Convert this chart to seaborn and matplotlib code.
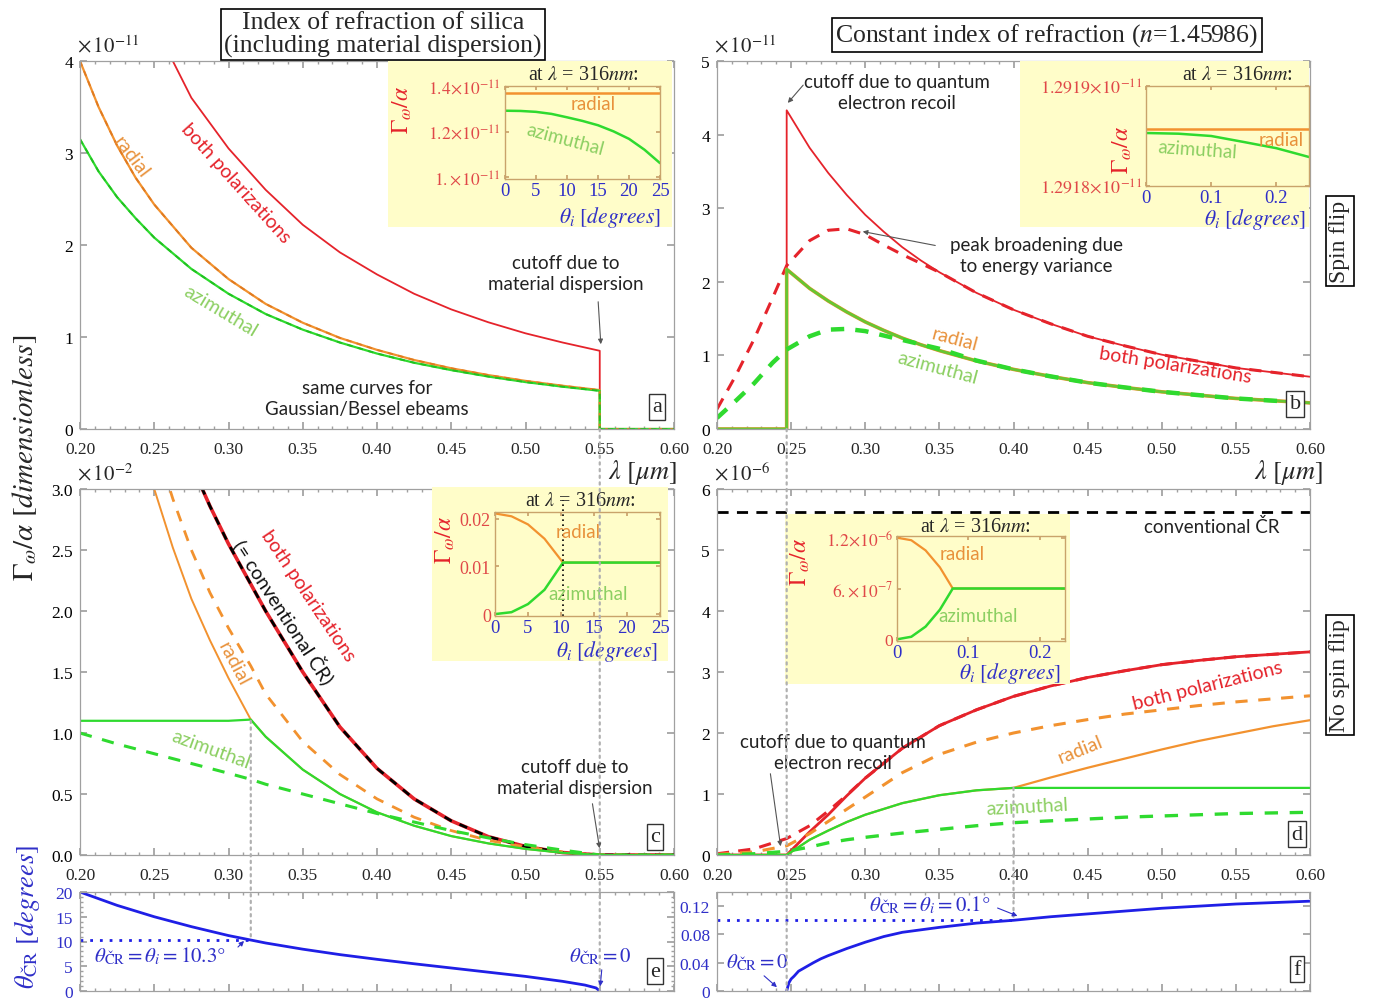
import matplotlib
matplotlib.use("Agg")
import matplotlib.pyplot as plt
import seaborn as sns
from matplotlib.patches import ConnectionPatch, FancyArrowPatch
from matplotlib.ticker import MultipleLocator

# ---------------- data ----------------
lam_ticks = [0.20, 0.25, 0.30, 0.35, 0.40, 0.45, 0.50, 0.55, 0.60]

# panel a  (units 1e-11), silica with dispersion, spin flip
lam_a = [0.20, 0.2125, 0.225, 0.2375, 0.25, 0.275, 0.30, 0.325, 0.35, 0.375, 0.40,
         0.425, 0.45, 0.475, 0.50, 0.525, 0.55, 0.55, 0.60]
a_both = [7.0, 6.2, 5.5, 4.95, 4.4, 3.6, 3.05, 2.6, 2.22, 1.92, 1.68,
          1.47, 1.30, 1.16, 1.04, 0.94, 0.85, 0.0, 0.0]
a_rad = [4.0, 3.50, 3.08, 2.73, 2.44, 1.97, 1.63, 1.36, 1.155, 0.99, 0.86,
         0.75, 0.66, 0.586, 0.523, 0.47, 0.423, 0.0, 0.0]
a_azi = [3.15, 2.80, 2.52, 2.29, 2.08, 1.74, 1.47, 1.25, 1.08, 0.94, 0.82,
         0.72, 0.64, 0.57, 0.51, 0.46, 0.415, 0.0, 0.0]

# panel b  (units 1e-11), constant n, spin flip
lam_b = [0.20, 0.2125, 0.225, 0.2375, 0.247, 0.247, 0.2625, 0.275, 0.2875, 0.30,
         0.3125, 0.325, 0.3375, 0.35, 0.375, 0.40, 0.425, 0.45, 0.475, 0.50,
         0.525, 0.55, 0.575, 0.60]
b_both = [0, 0, 0, 0, 0, 4.33, 3.82, 3.48, 3.18, 2.91,
          2.68, 2.47, 2.29, 2.13, 1.85, 1.62, 1.43, 1.26, 1.13, 1.01,
          0.92, 0.83, 0.77, 0.71]
b_both_dash = [0.27, 0.72, 1.22, 1.78, 2.22, 2.22, 2.56, 2.70, 2.72, 2.64,
               2.50, 2.37, 2.25, 2.13, 1.85, 1.62, 1.43, 1.26, 1.13, 1.01,
               0.92, 0.83, 0.77, 0.71]
b_pol = [0, 0, 0, 0, 0, 2.17, 1.91, 1.74, 1.59, 1.455,
         1.34, 1.235, 1.145, 1.065, 0.925, 0.81, 0.715, 0.63, 0.565, 0.505,
         0.46, 0.415, 0.385, 0.355]
b_pol_dash = [0.15, 0.38, 0.62, 0.90, 1.08, 1.08, 1.26, 1.35, 1.36, 1.33,
              1.27, 1.21, 1.15, 1.09, 0.93, 0.81, 0.715, 0.63, 0.565, 0.505,
              0.46, 0.415, 0.385, 0.355]

# panel c  (units 1e-2), silica, no spin flip
lam_c = [0.20, 0.225, 0.25, 0.2625, 0.275, 0.2875, 0.30, 0.315, 0.325, 0.35, 0.375,
         0.40, 0.425, 0.45, 0.475, 0.50, 0.525, 0.55, 0.60]
c_both = [8.5, 6.0, 4.1, 3.62, 3.2, 2.86, 2.55, 2.22, 2.0, 1.5, 1.05,
          0.71, 0.46, 0.28, 0.15, 0.07, 0.02, 0.0, 0.0]
c_rad = [7.4, 4.9, 3.0, 2.52, 2.1, 1.76, 1.45, 1.11, 0.97, 0.70, 0.50,
         0.35, 0.24, 0.155, 0.095, 0.05, 0.018, 0.0, 0.0]
c_azi = [1.1, 1.1, 1.1, 1.1, 1.1, 1.1, 1.1, 1.11, 0.97, 0.70, 0.50,
         0.35, 0.24, 0.155, 0.095, 0.05, 0.018, 0.0, 0.0]
c_rad_dash = [7.5, 5.0, 3.4, 2.92, 2.5, 2.15, 1.86, 1.55, 1.32, 0.93, 0.66,
              0.46, 0.31, 0.20, 0.12, 0.065, 0.025, 0.0, 0.0]
c_azi_dash = [1.0, 0.91, 0.83, 0.79, 0.75, 0.71, 0.67, 0.62, 0.58, 0.50, 0.42,
              0.34, 0.27, 0.20, 0.14, 0.085, 0.04, 0.0, 0.0]

# panel d  (units 1e-6), constant n, no spin flip
lam_d = [0.20, 0.225, 0.247, 0.2625, 0.275, 0.2875, 0.30, 0.325, 0.35, 0.375,
         0.40, 0.425, 0.45, 0.475, 0.50, 0.525, 0.55, 0.575, 0.60]
d_both = [0, 0, 0, 0.38, 0.66, 0.97, 1.26, 1.75, 2.12, 2.38,
          2.60, 2.77, 2.91, 3.02, 3.12, 3.19, 3.25, 3.29, 3.33]
d_both_dash = [0.02, 0.10, 0.27, 0.48, 0.72, 0.98, 1.26, 1.75, 2.12, 2.38,
               2.60, 2.77, 2.91, 3.02, 3.12, 3.19, 3.25, 3.29, 3.33]
d_rad = [0, 0, 0, 0.25, 0.40, 0.54, 0.66, 0.85, 0.98, 1.06,
         1.10, 1.27, 1.43, 1.58, 1.73, 1.87, 1.99, 2.11, 2.21]
d_azi = [0, 0, 0, 0.25, 0.40, 0.54, 0.66, 0.85, 0.98, 1.06,
         1.10, 1.10, 1.10, 1.10, 1.10, 1.10, 1.10, 1.10, 1.10]
d_rad_dash = [0.01, 0.05, 0.15, 0.35, 0.55, 0.75, 0.95, 1.35, 1.65, 1.85,
              2.00, 2.12, 2.22, 2.31, 2.38, 2.45, 2.51, 2.56, 2.61]
d_azi_dash = [0.0, 0.02, 0.06, 0.13, 0.20, 0.25, 0.29, 0.36, 0.42, 0.48,
              0.53, 0.56, 0.59, 0.62, 0.64, 0.66, 0.68, 0.69, 0.70]
conv_lam = [0.20, 0.60]
conv_level = [5.62, 5.62]

# panel e: Cherenkov angle (degrees), silica
lam_e = [0.20, 0.225, 0.25, 0.275, 0.30, 0.325, 0.35, 0.375, 0.40, 0.425,
         0.45, 0.475, 0.50, 0.525, 0.54, 0.5475, 0.55]
theta_e = [20.0, 17.3, 15.0, 13.0, 11.2, 9.7, 8.45, 7.35, 6.4, 5.5,
           4.65, 3.8, 2.95, 1.95, 1.2, 0.62, 0.0]
e_mark_lam = [0.20, 0.315]
e_mark_theta = [10.3, 10.3]

# panel f: Cherenkov angle (degrees), constant n
lam_f = [0.247, 0.2485, 0.25, 0.252, 0.255, 0.26, 0.265, 0.27, 0.275, 0.2875,
         0.30, 0.3125, 0.325, 0.35, 0.375, 0.40, 0.425, 0.45, 0.475, 0.50,
         0.525, 0.55, 0.575, 0.60]
theta_f = [0.0, 0.0116, 0.017, 0.021, 0.028, 0.034, 0.040, 0.0455, 0.050, 0.060,
           0.069, 0.077, 0.083, 0.090, 0.096, 0.100, 0.105, 0.109, 0.113, 0.117,
           0.120, 0.123, 0.125, 0.127]
f_mark_lam = [0.20, 0.40]
f_mark_theta = [0.1, 0.1]

# insets (at lambda = 316 nm)
ins_a_th = [0, 2.5, 5, 7.5, 10, 12.5, 15, 17.5, 20, 22.5, 25]
ins_a_rad = [1.37, 1.37, 1.37, 1.37, 1.37, 1.37, 1.37, 1.37, 1.37, 1.37, 1.37]
ins_a_azi = [1.294, 1.293, 1.289, 1.280, 1.265, 1.249, 1.230, 1.203, 1.170, 1.122, 1.063]

ins_b_th = [0, 0.05, 0.10, 0.15, 0.20, 0.25]
ins_b_rad = [1.291857, 1.291857, 1.291857, 1.291857, 1.291857, 1.291857]
ins_b_azi = [1.2918530, 1.2918523, 1.2918500, 1.2918440, 1.2918378, 1.2918290]

ins_c_th = [0, 2.5, 5, 7.5, 10.3, 15, 20, 25]
ins_c_rad = [0.0211, 0.0205, 0.0188, 0.0158, 0.0108, 0.0108, 0.0108, 0.0108]
ins_c_azi = [0.0, 0.0004, 0.0021, 0.0051, 0.0108, 0.0108, 0.0108, 0.0108]

ins_d_th = [0, 0.02, 0.04, 0.06, 0.078, 0.15, 0.235]
ins_d_rad = [1.2, 1.17, 1.05, 0.85, 0.6, 0.6, 0.6]
ins_d_azi = [0.0, 0.03, 0.15, 0.35, 0.6, 0.6, 0.6]

# ---------------- style ----------------
sns.set_theme(style="ticks")
plt.rcParams["font.family"] = ["Liberation Serif", "DejaVu Serif"]
plt.rcParams["mathtext.fontset"] = "stix"

RED = "#E5232B"
ORANGE = "#F2922F"
GREEN = "#2FDA2F"
BLUE = "#1F1FE6"
TBLUE = "#2F2FC8"
LRED = "#E04848"
LGREEN = "#8CCF62"
LORANGE = "#E8913A"
YELLOW = "#FFFDC9"
GRAY = "#A0A0A0"
TAN = "#C9A36B"
SANS = ["Lato", "DejaVu Sans"]

W, H = 1375, 1003
fig = plt.figure(figsize=(W / 100, H / 100), dpi=100)


def rect(x0, y0, x1, y1):
    return [x0 / W, 1 - y1 / H, (x1 - x0) / W, (y1 - y0) / H]


def P(px, py):
    return (px / W, 1 - py / H)


def ft(px, py, s, **kw):
    kw.setdefault("ha", "center")
    kw.setdefault("va", "center")
    return fig.text(px / W, 1 - py / H, s, **kw)


def arrow(p0, p1, color="#555555"):
    fig.add_artist(FancyArrowPatch(P(*p0), P(*p1), transform=fig.transFigure,
                                   arrowstyle="-|>", mutation_scale=7,
                                   color=color, lw=0.8, zorder=6))


def line(ax, x, y, color, lw=1.4, dash=None, z=2):
    n0 = len(ax.lines)
    sns.lineplot(x=x, y=y, ax=ax, color=color, linewidth=lw, estimator=None,
                 sort=False, legend=False, zorder=z)
    ln = ax.lines[n0]
    if dash is not None:
        ln.set_dashes(dash)
    return ln


def style_main(ax, ylim, yticks, ylabels, ycolor="black", show_x=True):
    ax.set_xlim(0.2, 0.6)
    ax.set_ylim(*ylim)
    ax.set_xticks(lam_ticks)
    ax.set_xticklabels([f"{t:.2f}" for t in lam_ticks] if show_x else [])
    ax.xaxis.set_minor_locator(MultipleLocator(0.01))
    ax.set_yticks(yticks)
    ax.set_yticklabels(ylabels)
    ax.tick_params(which="both", direction="in", top=True, right=True, color=GRAY)
    ax.tick_params(which="major", length=5, labelsize=12.5, pad=5)
    ax.tick_params(axis="x", which="major", pad=9)
    ax.tick_params(which="minor", length=2.5)
    ax.tick_params(axis="y", labelcolor=ycolor)
    for s in ax.spines.values():
        s.set_color(GRAY)
        s.set_linewidth(0.9)
    ax.set_xlabel("")
    ax.set_ylabel("")


def letter(ax, x, y, s):
    ax.text(x, y, s, transform=ax.transAxes, ha="center", va="center", fontsize=16,
            bbox=dict(boxstyle="square,pad=0.15", fc="white", ec="#333333", lw=1.0),
            zorder=7)


# ---------------- main axes ----------------
ax_a = fig.add_axes(rect(80, 62, 674, 430))
ax_b = fig.add_axes(rect(717, 62, 1310, 430))
ax_c = fig.add_axes(rect(80, 490, 674, 856))
ax_d = fig.add_axes(rect(717, 490, 1310, 856))
ax_e = fig.add_axes(rect(80, 893, 674, 992))
ax_f = fig.add_axes(rect(717, 893, 1310, 992))

# panel a
line(ax_a, lam_a, a_both, RED, 1.3)
line(ax_a, lam_a, a_rad, ORANGE, 1.6)
line(ax_a, lam_a, a_azi, GREEN, 1.6)
line(ax_a, lam_a, a_rad, "#E07A20", 1.3, dash=(3, 3))
line(ax_a, lam_a, a_azi, "#20C020", 1.3, dash=(3, 3))
style_main(ax_a, (0, 4), [0, 1, 2, 3, 4], ["0", "1", "2", "3", "4"])
letter(ax_a, 0.971, 0.06, "a")

# panel b
line(ax_b, lam_b, b_both, RED, 1.3)
line(ax_b, lam_b, b_both_dash, RED, 2.2, dash=(4, 3))
line(ax_b, lam_b, b_pol, ORANGE, 2.6)
line(ax_b, lam_b, b_pol, "#66C633", 2.0)
line(ax_b, lam_b, b_pol_dash, GREEN, 3.2, dash=(3, 2.5))
style_main(ax_b, (0, 5), [0, 1, 2, 3, 4, 5], ["0", "1", "2", "3", "4", "5"])
letter(ax_b, 0.975, 0.068, "b")

# panel c
line(ax_c, lam_c, c_both, RED, 2.6)
line(ax_c, lam_c, c_both, "black", 2.0, dash=(3, 3))
line(ax_c, lam_c, c_rad, ORANGE, 1.4)
line(ax_c, lam_c, c_rad_dash, ORANGE, 2.0, dash=(4, 3.5))
line(ax_c, lam_c, c_azi, GREEN, 1.6)
line(ax_c, lam_c, c_azi_dash, GREEN, 2.2, dash=(4, 3.5))
style_main(ax_c, (0, 3), [0, 0.5, 1, 1.5, 2, 2.5, 3],
           ["0.0", "0.5", "1.0", "1.5", "2.0", "2.5", "3.0"])
letter(ax_c, 0.968, 0.05, "c")

# panel d
line(ax_d, conv_lam, conv_level, "black", 2.0, dash=(4, 3))
line(ax_d, lam_d, d_both_dash, RED, 2.2, dash=(4, 3))
line(ax_d, lam_d, d_both, RED, 2.0)
line(ax_d, lam_d, d_rad_dash, ORANGE, 2.2, dash=(4, 3.5))
line(ax_d, lam_d, d_rad, ORANGE, 1.6)
line(ax_d, lam_d, d_azi_dash, GREEN, 2.4, dash=(4, 3.5))
line(ax_d, lam_d, d_azi, GREEN, 1.6)
style_main(ax_d, (0, 6), [0, 1, 2, 3, 4, 5, 6], ["0", "1", "2", "3", "4", "5", "6"])
letter(ax_d, 0.978, 0.057, "d")

# panel e
line(ax_e, lam_e, theta_e, BLUE, 2.0)
line(ax_e, e_mark_lam, e_mark_theta, BLUE, 2.0, dash=(1, 2.5))
style_main(ax_e, (0, 20), [0, 5, 10, 15, 20], ["0", "5", "10", "15", "20"],
           ycolor=TBLUE, show_x=False)
ax_e.yaxis.set_minor_locator(MultipleLocator(1))
letter(ax_e, 0.968, 0.2, "e")

# panel f
line(ax_f, lam_f, theta_f, BLUE, 2.0)
line(ax_f, f_mark_lam, f_mark_theta, BLUE, 2.0, dash=(1, 2.5))
style_main(ax_f, (0, 0.14), [0, 0.04, 0.08, 0.12], ["0", "0.04", "0.08", "0.12"],
           ycolor=TBLUE, show_x=False)
letter(ax_f, 0.978, 0.22, "f")

# scale multipliers
for ax, s in [(ax_a, r"$\times\,10^{-11}$"), (ax_b, r"$\times\,10^{-11}$"),
              (ax_c, r"$\times\,10^{-2}$"), (ax_d, r"$\times\,10^{-6}$")]:
    ax.text(-0.005, 1.012, s, transform=ax.transAxes, ha="left", va="bottom",
            fontsize=15)


# ---------------- insets ----------------
def inset(bg_box, ax_box):
    bg = fig.add_axes(rect(*bg_box))
    bg.set_facecolor(YELLOW)
    bg.set_xticks([])
    bg.set_yticks([])
    for s in bg.spines.values():
        s.set_visible(False)
    ia = fig.add_axes(rect(*ax_box))
    ia.set_facecolor(YELLOW)
    return ia


def style_inset(ia, xlim, ylim, xt, xtl, yt, ytl, fs=12):
    ia.set_xlim(*xlim)
    ia.set_ylim(*ylim)
    ia.set_xticks(xt)
    ia.set_xticklabels(xtl)
    ia.set_yticks(yt)
    ia.set_yticklabels(ytl)
    ia.tick_params(direction="in", length=3, color=TAN, labelsize=fs, pad=3,
                   top=True, right=True)
    ia.tick_params(axis="x", labelcolor=TBLUE, labelsize=13.5, pad=2)
    ia.tick_params(axis="y", labelcolor=LRED)
    for s in ia.spines.values():
        s.set_color(TAN)
        s.set_linewidth(1.0)
    ia.set_xlabel("")
    ia.set_ylabel("")


# inset a
ia = inset((388, 62, 672, 228), (505, 87, 660, 180))
line(ia, ins_a_th, ins_a_rad, ORANGE, 1.8)
line(ia, ins_a_th, ins_a_azi, GREEN, 1.8)
style_inset(ia, (0, 25), (0.993, 1.403), [0, 5, 10, 15, 20, 25],
            ["0", "5", "10", "15", "20", "25"], [1.0, 1.2, 1.4],
            [r"$1.\!\times\!10^{-11}$", r"$1.2\!\times\!10^{-11}$", r"$1.4\!\times\!10^{-11}$"],
            fs=12.5)
ft(583, 76, r"at $\lambda$ = 316$nm$:", fontsize=14.5)
ft(402, 110, r"$\Gamma_\omega/\alpha$", fontsize=17, color=RED, rotation=90)
ft(610, 217, r"$\theta_i\ [degrees]$", fontsize=15.5, color=TBLUE)
ft(593, 104, "radial", fontsize=13.5, color=LORANGE, family=SANS)
ft(565, 140, "azimuthal", fontsize=13.5, color=LGREEN, family=SANS, rotation=-15)

# inset b
ib = inset((1020, 62, 1309, 228), (1146, 87, 1309, 187))
line(ib, ins_b_th, ins_b_rad, ORANGE, 1.8)
line(ib, ins_b_th, ins_b_azi, GREEN, 1.8)
style_inset(ib, (0, 0.25), (1.2918, 1.2919), [0, 0.1, 0.2], ["0", "0.1", "0.2"],
            [1.2918, 1.2919],
            [r"$1.2918\!\times\!10^{-11}$", r"$1.2919\!\times\!10^{-11}$"], fs=13)
ft(1237, 76, r"at $\lambda$ = 316$nm$:", fontsize=14.5)
ft(1122, 150, r"$\Gamma_\omega/\alpha$", fontsize=17, color=RED, rotation=90)
ft(1255, 220, r"$\theta_i\ [degrees]$", fontsize=15.5, color=TBLUE)
ft(1281, 141, "radial", fontsize=13.5, color=LORANGE, family=SANS)
ft(1197, 150, "azimuthal", fontsize=13.5, color=LGREEN, family=SANS, rotation=-4)

# inset c
ic = inset((432, 488, 668, 662), (495, 513, 660, 617))
line(ic, ins_c_th, ins_c_rad, ORANGE, 1.6)
line(ic, ins_c_th, ins_c_azi, GREEN, 1.8)
ic.axvline(10.3, color="black", lw=1.2, ls=(0, (1, 2)), ymax=1.12, clip_on=False)
style_inset(ic, (0, 25), (-0.0004, 0.0214), [0, 5, 10, 15, 20, 25],
            ["0", "5", "10", "15", "20", "25"], [0, 0.01, 0.02], ["0", "0.01", "0.02"],
            fs=13)
ft(580, 502, r"at $\lambda$ = 316$nm$:", fontsize=14.5)
ft(445, 540, r"$\Gamma_\omega/\alpha$", fontsize=17, color=RED, rotation=90)
ft(607, 652, r"$\theta_i\ [degrees]$", fontsize=15.5, color=TBLUE)
ft(578, 533, "radial", fontsize=13.5, color=LORANGE, family=SANS)
ft(588, 594, "azimuthal", fontsize=13.5, color=LGREEN, family=SANS)

# inset d
idd = inset((785, 515, 1070, 685), (897, 537, 1065, 642))
line(idd, ins_d_th, ins_d_rad, ORANGE, 1.6)
line(idd, ins_d_th, ins_d_azi, GREEN, 1.8)
style_inset(idd, (0, 0.235), (-0.02, 1.22), [0, 0.1, 0.2], ["0", "0.1", "0.2"],
            [0, 0.6, 1.2], ["0", r"$6.\!\times\!10^{-7}$", r"$1.2\!\times\!10^{-6}$"],
            fs=12.5)
ft(975, 527, r"at $\lambda$ = 316$nm$:", fontsize=14.5)
ft(800, 562, r"$\Gamma_\omega/\alpha$", fontsize=17, color=RED, rotation=90)
ft(1010, 673, r"$\theta_i\ [degrees]$", fontsize=15.5, color=TBLUE)
ft(962, 554, "radial", fontsize=13.5, color=LORANGE, family=SANS)
ft(978, 617, "azimuthal", fontsize=13.5, color=LGREEN, family=SANS)

# ---------------- connecting dotted lines ----------------
for axA, xyA, axB, xyB in [(ax_a, (0.55, 0), ax_e, (0.55, 0)),
                           (ax_c, (0.315, 1.1), ax_e, (0.315, 10.3)),
                           (ax_b, (0.247, 0), ax_f, (0.247, 0)),
                           (ax_d, (0.40, 1.1), ax_f, (0.40, 0.1))]:
    con = ConnectionPatch(xyA=xyA, coordsA="data", axesA=axA,
                          xyB=xyB, coordsB="data", axesB=axB,
                          color="#B0B0B0", lw=1.6, linestyle=(0, (1, 2)), zorder=5)
    fig.add_artist(con)

# ---------------- titles and labels ----------------
ft(383, 35, "Index of refraction of silica\n(including material dispersion)",
   fontsize=18.5, linespacing=1.0,
   bbox=dict(boxstyle="square,pad=0.12", fc="white", ec="black", lw=1.2))
ft(1047, 36, r"Constant index of refraction ($n$=1.45986)", fontsize=18.5,
   bbox=dict(boxstyle="square,pad=0.12", fc="white", ec="black", lw=1.2))
ft(1340, 242, "Spin flip", fontsize=17, rotation=90,
   bbox=dict(boxstyle="square,pad=0.15", fc="white", ec="black", lw=1.2))
ft(1340, 676, "No spin flip", fontsize=17, rotation=90,
   bbox=dict(boxstyle="square,pad=0.15", fc="white", ec="black", lw=1.2))
ft(642, 473, r"$\lambda\ [\mu m]$", fontsize=19)
ft(1288, 473, r"$\lambda\ [\mu m]$", fontsize=19)
ft(25, 458, r"$\Gamma_\omega/\alpha\ [dimensionless]$", fontsize=21, rotation=90)
ft(27, 917, r"$\theta_{\mathrm{ČR}}\ [degrees]$", fontsize=19, rotation=90, color=TBLUE)

# ---------------- annotations ----------------
# panel a
ft(131, 157, "radial", fontsize=14, color=LORANGE, family=SANS, rotation=-53)
ft(236, 183, "both polarizations", fontsize=14, color=RED, family=SANS, rotation=-48)
ft(221, 311, "azimuthal", fontsize=14, color=LGREEN, family=SANS, rotation=-31)
ft(566, 274, "cutoff due to\nmaterial dispersion", fontsize=13.5, family=SANS,
   color="#222222", linespacing=1.3)
arrow((598, 300), (601, 348))
ft(367, 399, "same curves for\nGaussian/Bessel ebeams", fontsize=13.5, family=SANS,
   color="#222222", linespacing=1.3)

# panel b
ft(897, 93, "cutoff due to quantum\nelectron recoil", fontsize=13.5, family=SANS,
   color="#222222", linespacing=1.3)
arrow((805, 84), (786, 106))
ft(1036, 256, "peak broadening due\nto energy variance", fontsize=13.5, family=SANS,
   color="#222222", linespacing=1.3)
arrow((938, 247), (860, 232))
ft(955, 340, "radial", fontsize=14, color=LORANGE, family=SANS, rotation=-15)
ft(938, 368, "azimuthal", fontsize=14, color=LGREEN, family=SANS, rotation=-15)
ft(1175, 366, "both polarizations", fontsize=14, color=RED, family=SANS, rotation=-9)

# panel c
ft(308, 596, "both polarizations", fontsize=14, color=RED, family=SANS, rotation=-56)
ft(284, 612, "(= conventional ČR)", fontsize=14, color="#111111", family=SANS,
   rotation=-57)
ft(234, 664, "radial", fontsize=14, color=LORANGE, family=SANS, rotation=-62)
ft(211, 750, "azimuthal", fontsize=14, color=LGREEN, family=SANS, rotation=-20)
ft(575, 778, "cutoff due to\nmaterial dispersion", fontsize=13.5, family=SANS,
   color="#222222", linespacing=1.3)
arrow((592, 802), (600, 852))

# panel d
ft(1212, 527, "conventional ČR", fontsize=13.5, family=SANS, color="#222222")
ft(1208, 686, "both polarizations", fontsize=14, color=RED, family=SANS, rotation=14)
ft(1080, 750, "radial", fontsize=14, color=LORANGE, family=SANS, rotation=22)
ft(1027, 807, "azimuthal", fontsize=14, color=LGREEN, family=SANS, rotation=3)
ft(833, 753, "cutoff due to quantum\nelectron recoil", fontsize=13.5, family=SANS,
   color="#222222", linespacing=1.3)
arrow((770, 772), (781, 850))

# panel e / f
ft(160, 956, r"$\theta_{\mathrm{ČR}} = \theta_i = 10.3°$", fontsize=15, color=TBLUE)
arrow((236, 950), (246, 940), color=TBLUE)
ft(600, 957, r"$\theta_{\mathrm{ČR}} = 0$", fontsize=15, color=TBLUE)
arrow((602, 968), (600, 990), color=TBLUE)
ft(930, 905, r"$\theta_{\mathrm{ČR}} = \theta_i = 0.1°$", fontsize=15, color=TBLUE)
arrow((995, 908), (1020, 918), color=TBLUE)
ft(757, 963, r"$\theta_{\mathrm{ČR}} = 0$", fontsize=15, color=TBLUE)
arrow((762, 975), (779, 990), color=TBLUE)

fig.savefig("out.png", dpi=100)
